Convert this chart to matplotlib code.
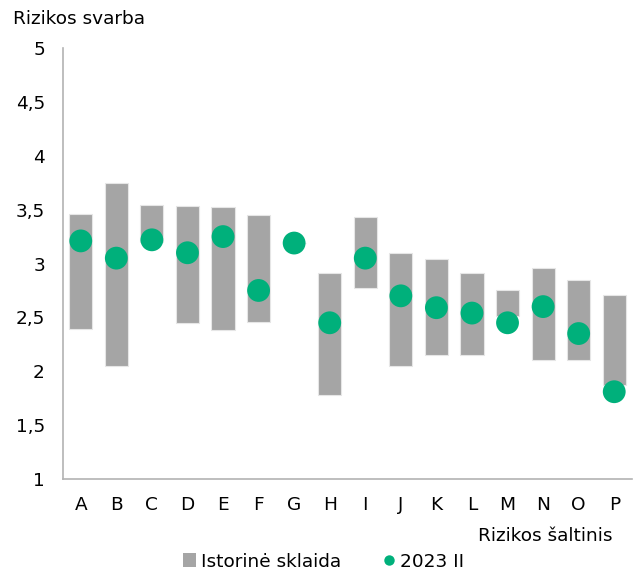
import numpy as np
import matplotlib
matplotlib.use('Agg')
import matplotlib.pyplot as plt
from matplotlib.lines import Line2D
from matplotlib.patches import Patch

# ── duomenys ──────────────────────────────────────────────────────
categories = list("ABCDEFGHIJKLMNOP")
range_low = [2.39, 2.05, 3.20, 2.45, 2.38, 2.46, 3.19, 1.78, 2.77, 2.05, 2.15, 2.15, 2.51, 2.10, 2.10, 1.87]
range_high = [3.46, 3.75, 3.54, 3.53, 3.52, 3.45, 3.19, 2.91, 3.43, 3.10, 3.04, 2.91, 2.75, 2.96, 2.85, 2.71]
current = [3.21, 3.05, 3.22, 3.10, 3.25, 2.75, 3.19, 2.45, 3.05, 2.70, 2.59, 2.54, 2.45, 2.60, 2.35, 1.81]
y_ticks = [1, 1.5, 2, 2.5, 3, 3.5, 4, 4.5, 5]

GRAY = '#a5a5a5'
GREEN = '#00b07b'
AXIS = '#b3b3b3'
FS = 13.3

plt.rcParams['font.family'] = ['DejaVu Sans']

fig = plt.figure(figsize=(6.38, 5.72), dpi=100)
ax = fig.add_axes([0.0987, 0.1626, 0.8919, 0.7534])

x = np.arange(len(categories))
low = np.array(range_low)
high = np.array(range_high)
# istorinė sklaida – "plaukiojantys" stulpeliai
ax.bar(x, high - low, bottom=low, width=0.65, color=GRAY,
       edgecolor='#e6e6e6', linewidth=0.8, zorder=2)
ax.scatter(x, current, s=270, color=GREEN, edgecolor='none', zorder=3)

ax.set_xlim(-0.5, len(categories) - 0.5)
ax.set_ylim(1, 5)
ax.set_xticks(x)
ax.set_xticklabels(categories, fontsize=FS)
ax.set_yticks(y_ticks)
ax.set_yticklabels([f"{v:g}".replace('.', ',') for v in y_ticks], fontsize=FS)
ax.tick_params(length=0)
ax.tick_params(axis='x', pad=12)
ax.tick_params(axis='y', pad=13)

for s in ('top', 'right'):
    ax.spines[s].set_visible(False)
for s in ('left', 'bottom'):
    ax.spines[s].set_color(AXIS)
    ax.spines[s].set_linewidth(1.2)

fig.text(0.02, 0.966, "Rizikos svarba", fontsize=FS, va='center', ha='left')
fig.text(0.96, 0.063, "Rizikos šaltinis", fontsize=FS, va='center', ha='right')

handles = [
    Patch(facecolor=GRAY, edgecolor='none'),
    Line2D([], [], marker='o', linestyle='none', markersize=7.5,
           markerfacecolor=GREEN, markeredgecolor='none'),
]
fig.legend(handles, ["Istorinė sklaida", "2023 II"], loc='center',
           bbox_to_anchor=(0.507, 0.018), ncol=2, frameon=False, fontsize=FS,
           handlelength=0.75, handleheight=0.75, handletextpad=0.25, columnspacing=2.2)

fig.savefig('out.png', dpi=100)
